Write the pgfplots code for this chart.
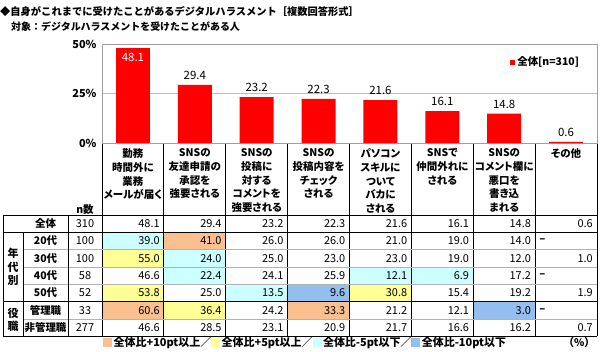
\documentclass[border=0pt]{standalone}
\usepackage{pgfplots}
\pgfplotsset{compat=1.18}
\usepackage{fontspec}
\setmainfont{Noto Sans CJK JP}
\newfontfamily\pfont{Noto Sans CJK JP}[RawFeature=+palt]
\definecolor{cOr}{RGB}{250,192,144}
\definecolor{cYe}{RGB}{255,255,150}
\definecolor{cCy}{RGB}{204,255,255}
\definecolor{cBl}{RGB}{148,190,238}
\definecolor{grid}{RGB}{217,217,217}
\definecolor{frame}{RGB}{160,160,160}
\newcommand{\fs}[2]{\fontsize{#1}{#2}\selectfont}
\newcommand{\sq}[1]{{\color{#1}\rule[-0.5bp]{9bp}{9bp}}\hspace{1.5bp}}
\begin{document}
\begin{tikzpicture}
\begin{scope}[x=1bp,y=-1bp]
\path[use as bounding box] (0,0) rectangle (600,351);
% titles
\node[anchor=west,inner sep=0pt,font=\bfseries\fs{10.3}{13}] at (0,12) {◆自身がこれまでに受けたことがあるデジタルハラスメント［複数回答形式］};
\node[anchor=west,inner sep=0pt,font=\bfseries\fs{10}{13}] at (11,27) {対象：デジタルハラスメントを受けたことがある人};
% cell colours
\foreach \r/\c/\col in {1/0/cCy,1/1/cOr,2/0/cYe,2/1/cCy,3/1/cCy,3/4/cCy,3/5/cCy,4/0/cYe,4/2/cCy,4/3/cBl,4/4/cYe,5/0/cOr,5/1/cYe,5/3/cOr,5/6/cBl}
  \fill[\col] ({102+\c*61.875},{215+\r*17.3}) rectangle ++(61.875,17.3);
% header vertical lines
\foreach \i in {0,...,8} \draw[black,line width=0.8bp] ({102+\i*61.875},143) -- ({102+\i*61.875},336.1);
% table lines
\draw[gray!60,line width=0.6bp] (23,249.6) -- (597,249.6) (23,266.9) -- (597,266.9) (23,284.2) -- (597,284.2) (23,318.8) -- (597,318.8);
\draw[black,line width=0.8bp] (3,215) -- (597,215) (3,232.3) -- (597,232.3) (3,301.5) -- (597,301.5) (3,336.1) -- (597,336.1);
\draw[black,line width=0.8bp] (3,215) -- (3,336.1) (23,232.3) -- (23,336.1) (68,215) -- (68,336.1);
% header texts
\foreach \txt [count=\i from 0] in {{勤務\\時間外に\\業務\\メールが届く},{SNSの\\友達申請の\\承認を\\強要される},{SNSの\\投稿に\\対する\\コメントを\\強要される},{SNSの\\投稿内容を\\チェック\\される},{パソコン\\スキルに\\ついて\\バカに\\される},{SNSで\\仲間外れに\\される},{SNSの\\コメント欄に\\悪口を\\書き込\\まれる},{その他}}
  \node[anchor=north,align=center,inner sep=0pt,font=\pfont\bfseries\fs{10.5}{13.8}] at ({102+(\i+0.5)*61.875},148.5) {\txt};
\node[font=\bfseries\fs{10.5}{12},inner sep=0pt] at (85,210) {n数};
% group labels
\node[align=center,inner sep=0pt,font=\bfseries\fs{11}{13.5}] at (13,267) {年\\代\\別};
\node[align=center,inner sep=0pt,font=\bfseries\fs{11}{13.5}] at (13,320) {役\\職};
% rows
\def\dash{-}
\foreach \r/\nm/\nn/\vals in {0/全体/310/{48.1,29.4,23.2,22.3,21.6,16.1,14.8,0.6},
  1/20代/100/{39.0,41.0,26.0,26.0,21.0,19.0,14.0,-},
  2/30代/100/{55.0,24.0,25.0,23.0,23.0,19.0,12.0,1.0},
  3/40代/58/{46.6,22.4,24.1,25.9,12.1,6.9,17.2,-},
  4/50代/52/{53.8,25.0,13.5,9.6,30.8,15.4,19.2,1.9},
  5/管理職/33/{60.6,36.4,24.2,33.3,21.2,12.1,3.0,-},
  6/非管理職/277/{46.6,28.5,23.1,20.9,21.7,16.6,16.2,0.7}}{
  \node[inner sep=0pt,font=\bfseries\fs{10.5}{12}] at (45.5,{215+(\r+0.5)*17.3}) {\nm};
  \node[inner sep=0pt,font=\fs{11}{12}] at (85,{215+(\r+0.5)*17.3}) {\nn};
  \foreach \v [count=\c from 0] in \vals {
    \edef\tmp{\v}
    \ifx\tmp\dash
      \node[anchor=west,inner sep=0pt,font=\bfseries\fs{11}{12}] at ({102+\c*61.875+4},{215+(\r+0.5)*17.3}) {–};
    \else
      \node[anchor=east,inner sep=0pt,font=\fs{11}{12}] at ({102+(\c+1)*61.875-4},{215+(\r+0.5)*17.3}) {\v};
    \fi
  }
}
% bottom legend
\node[anchor=west,inner sep=0pt,font=\bfseries\fs{11}{12}] at (103,343) {\sq{cOr}全体比+10pt以上／\sq{cYe}全体比+5pt以上／\sq{cCy}全体比-5pt以下／\sq{cBl}全体比-10pt以下};
\node[anchor=east,inner sep=0pt,font=\bfseries\fs{10.5}{12}] at (595,343) {（\%）};
\end{scope}
\begin{axis}[at={(102bp,-143bp)}, anchor=south west, scale only axis,
  width=495bp, height=99bp, xmin=-0.5, xmax=7.5, ymin=0, ymax=50,
  ytick={0,25,50}, yticklabel={\pgfmathprintnumber{\tick}\%},
  xtick=\empty, minor xtick={0.5,1.5,...,6.5}, xminorgrids,
  minor grid style={grid}, minor tick length=0pt, major tick length=0pt,
  axis line style={frame}, clip=false,
  /pgf/number format/assume math mode=true,
  yticklabel style={font=\bfseries\fs{11}{12}, xshift=-2bp},
  legend style={at={(0.968,0.818)}, anchor=east, draw=none, fill=none,
    font=\bfseries\fs{10.5}{12}, inner sep=0pt},
  legend image code/.code={\fill[red] (0bp,-2.5bp) rectangle (5bp,2.5bp);},
  nodes near coords={\pgfmathprintnumber[fixed,precision=1,fixed zerofill]{\pgfplotspointmeta}},
]
\addplot[ybar, fill=red, draw=none, bar width=0.55, bar shift=0pt,
  nodes near coords style={anchor=north, text=white, font=\fs{11.5}{12}, yshift=-2bp}]
  coordinates {(0,48.1)};
\addlegendentry{全体[n=310]}
\addplot[ybar, fill=red, draw=none, bar width=0.55, bar shift=0pt, forget plot,
  nodes near coords style={anchor=south, text=black, font=\fs{11.5}{12}, yshift=2bp}]
  coordinates {(1,29.4) (2,23.2) (3,22.3) (4,21.6) (5,16.1) (6,14.8) (7,0.6)};
\end{axis}
\end{tikzpicture}
\end{document}
